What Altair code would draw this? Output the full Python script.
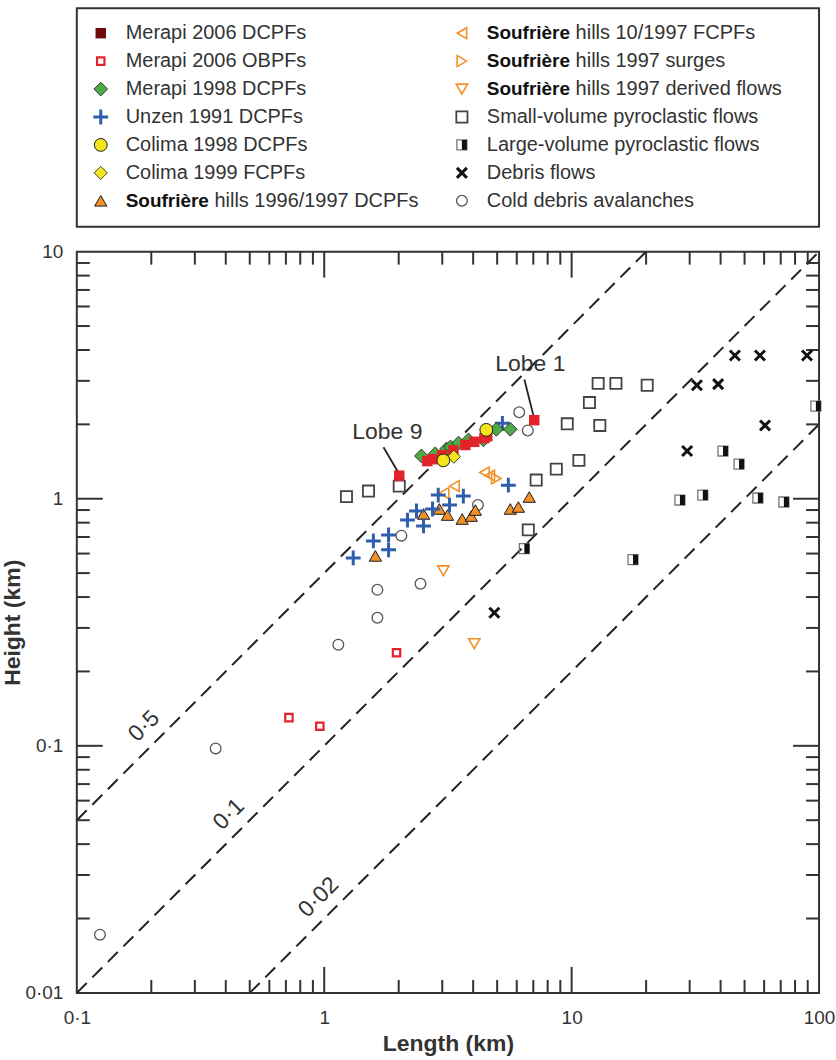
import altair as alt
import pandas as pd

FONT = "Liberation Sans"

# ---------------- data (length km, height km) ----------------
merapi06_dcpf_len = [2.01, 2.61, 2.74, 3.00, 3.33, 3.72, 4.04, 4.44, 4.56, 7.06]
merapi06_dcpf_h = [1.24, 1.42, 1.445, 1.50, 1.57, 1.65, 1.70, 1.76, 1.79, 2.08]
merapi06_obpf_len = [0.72, 0.96, 1.96]
merapi06_obpf_h = [0.13, 0.12, 0.238]
merapi98_len = [2.47, 2.81, 3.12, 3.24, 3.49, 3.83, 4.40, 4.96, 5.65]
merapi98_h = [1.49, 1.52, 1.59, 1.62, 1.68, 1.73, 1.73, 1.91, 1.91]
unzen_len = [1.31, 1.58, 1.82, 1.82, 2.17, 2.36, 2.52, 2.74, 2.89, 3.21, 3.65, 5.25, 5.55]
unzen_h = [0.576, 0.675, 0.714, 0.621, 0.820, 0.892, 0.776, 0.909, 1.035, 0.943, 1.025, 2.02, 1.135]
colima98_len = [3.03, 4.52]
colima98_h = [1.43, 1.90]
colima99_len = [3.34]
colima99_h = [1.48]
souf_dcpf_len = [1.61, 2.52, 2.92, 3.15, 3.61, 3.93, 4.08, 5.65, 6.09, 6.74]
souf_dcpf_h = [0.587, 0.868, 0.909, 0.859, 0.828, 0.851, 0.900, 0.909, 0.926, 1.016]
souf_fcpf_len = [3.05, 3.36, 4.44, 4.67]
souf_fcpf_h = [1.054, 1.125, 1.277, 1.242]
souf_surge_len = [4.96]
souf_surge_h = [1.208]
souf_derived_len = [3.03, 4.04]
souf_derived_h = [0.511, 0.259]
small_pf_len = [1.23, 1.51, 2.01, 6.68, 7.19, 8.67, 9.60, 10.7, 11.8, 12.8, 13.0, 15.1, 20.2]
small_pf_h = [1.02, 1.074, 1.125, 0.748, 1.19, 1.318, 2.01, 1.43, 2.45, 2.93, 1.98, 2.93, 2.88]
large_pf_len = [6.44, 17.7, 27.4, 33.9, 40.9, 47.5, 56.6, 72.1, 97.1]
large_pf_h = [0.628, 0.567, 0.988, 1.035, 1.56, 1.38, 1.007, 0.97, 2.37]
debris_len = [4.87, 29.3, 32.1, 39.1, 45.7, 57.7, 60.5, 89.4]
debris_h = [0.3455, 1.56, 2.88, 2.91, 3.80, 3.80, 1.98, 3.80]
cold_len = [0.124, 0.364, 1.14, 1.64, 1.64, 2.45, 2.05, 4.18, 6.14, 6.65]
cold_h = [0.0172, 0.0976, 0.2566, 0.428, 0.330, 0.453, 0.709, 0.943, 2.24, 1.89]

# H/L ratio lines and their labels
ratios = [0.5, 0.1, 0.02]
ratio_labels = ["0·5", "0·1", "0·02"]
ratio_label_len = [0.212, 0.466, 1.075]

# annotations
lobe_text = ["Lobe 1", "Lobe 9"]
lobe_text_len = [6.81, 1.80]
lobe_text_h = [3.50, 1.86]
lobe_line_len = [[6.44, 7.0], [1.736, 1.99]]
lobe_line_h = [[3.04, 2.18], [1.617, 1.28]]

# axis tick values
x_labels = [0.1, 1, 10, 100]
y_labels = [0.01, 0.1, 1, 10]
x_minor = [0.2, 0.3, 0.4, 0.5, 0.6, 0.7, 0.8, 0.9, 2, 3, 4, 5, 6, 7, 8, 9,
           20, 30, 40, 50, 60, 70, 80, 90]
x_major = [1, 10]
y_minor = [0.02, 0.03, 0.04, 0.05, 0.06, 0.07, 0.08, 0.09,
           0.2, 0.3, 0.4, 0.5, 0.6, 0.7, 0.8, 0.9,
           2, 3, 4, 5, 6, 7, 8, 9]
y_major = [0.1, 1]

# ---------------- styles ----------------
RED = "#e3232a"
ORANGE = "#f2912a"
PLUS = "M-1,0L1,0M0,-1L0,1"
XSHAPE = "M-1,-1L1,1M-1,1L1,-1"
HALF = "M0,-1L1,-1L1,1L0,1Z"

series = [
    dict(name="Merapi 2006 DCPFs", L=merapi06_dcpf_len, H=merapi06_dcpf_h, shape="square",
         fill=RED, legend_fill="#6e0b0b", size=110, col=0, row=0),
    dict(name="Merapi 2006 OBPFs", L=merapi06_obpf_len, H=merapi06_obpf_h, shape="square",
         stroke=RED, sw=2.2, size=55, col=0, row=1),
    dict(name="Merapi 1998 DCPFs", L=merapi98_len, H=merapi98_h, shape="diamond",
         fill="#4ea846", stroke="#1a1a1a", sw=0.8, size=190, col=0, row=2),
    dict(name="Unzen 1991 DCPFs", L=unzen_len, H=unzen_h, shape=PLUS,
         stroke="#2f5eac", sw=3, size=220, col=0, row=3),
    dict(name="Colima 1998 DCPFs", L=colima98_len, H=colima98_h, shape="circle",
         fill="#f2e51d", stroke="#1a1a1a", sw=1, size=165, col=0, row=4),
    dict(name="Colima 1999 FCPFs", L=colima99_len, H=colima99_h, shape="diamond",
         fill="#f2e51d", stroke="#1a1a1a", sw=0.8, size=175, col=0, row=5),
    dict(name="Soufrière hills 1996/1997 DCPFs", L=souf_dcpf_len, H=souf_dcpf_h, shape="triangle-up",
         fill=ORANGE, stroke="#1a1a1a", sw=1, size=150, col=0, row=6),
    dict(name="Soufrière hills 10/1997 FCPFs", L=souf_fcpf_len, H=souf_fcpf_h, shape="triangle-left",
         stroke=ORANGE, sw=1.6, size=120, col=1, row=0),
    dict(name="Soufrière hills 1997 surges", L=souf_surge_len, H=souf_surge_h, shape="triangle-right",
         stroke=ORANGE, sw=1.6, size=120, col=1, row=1),
    dict(name="Soufrière hills 1997 derived flows", L=souf_derived_len, H=souf_derived_h,
         shape="triangle-down", stroke=ORANGE, sw=1.6, size=130, col=1, row=2),
    dict(name="Small-volume pyroclastic flows", L=small_pf_len, H=small_pf_h, shape="square",
         stroke="#444444", sw=1.8, size=125, col=1, row=3),
    dict(name="Large-volume pyroclastic flows", L=large_pf_len, H=large_pf_h, shape="square",
         stroke="#777777", sw=1.3, size=100, half=True, col=1, row=4),
    dict(name="Debris flows", L=debris_len, H=debris_h, shape=XSHAPE,
         stroke="#111111", sw=3, size=100, col=1, row=5),
    dict(name="Cold debris avalanches", L=cold_len, H=cold_h, shape="circle",
         stroke="#555555", sw=1.3, size=115, col=1, row=6),
]

W, H = 744, 743
TICK_MAJ, TICK_MIN = 26, 13
AX = "#333333"

lab_expr = "replace(format(datum.value, '~g'), '.', '·')"
x_axis = alt.Axis(values=x_labels, labelExpr=lab_expr, ticks=False, domain=False, grid=False,
                  labelFont=FONT, labelFontSize=19, labelColor=AX, labelPadding=16,
                  labelFlush=False, labelOverlap=False,
                  title="Length (km)", titleFont=FONT, titleFontSize=23,
                  titleFontWeight="bold", titleColor=AX, titlePadding=5)
y_axis = alt.Axis(values=y_labels, labelExpr=lab_expr, ticks=False, domain=False, grid=False,
                  labelFont=FONT, labelFontSize=19, labelColor=AX, labelPadding=14,
                  labelFlush=False, labelOverlap=False,
                  title="Height (km)", titleFont=FONT, titleFontSize=23,
                  titleFontWeight="bold", titleColor=AX, titlePadding=0)
XS = alt.Scale(type="log", domain=[0.1, 100], nice=False)
YS = alt.Scale(type="log", domain=[0.01, 10], nice=False)
X = alt.X("L:Q", scale=XS, axis=x_axis)
Y = alt.Y("H:Q", scale=YS, axis=y_axis)


def point_layer(data, st, x, y, fill_key="fill"):
    props = dict(shape=st["shape"], size=st["size"], opacity=1)
    fill = st.get(fill_key) or st.get("fill")
    if fill:
        props.update(filled=True, fill=fill)
    else:
        props.update(filled=False)
    if st.get("stroke"):
        props.update(stroke=st["stroke"], strokeWidth=st["sw"])
    else:
        props.update(strokeWidth=0)
    layers = [alt.Chart(data).mark_point(**props).encode(x=x, y=y)]
    if st.get("half"):
        layers.append(alt.Chart(data).mark_point(shape=HALF, size=st["size"], filled=True,
                                                 fill="#111111", strokeWidth=0, opacity=1)
                      .encode(x=x, y=y))
    return layers


# ---------------- main plot ----------------
layers = []

# ratio lines
line_rows = []
for c in ratios:
    x0 = max(0.1, 0.01 / c)
    x1 = min(100, 10 / c)
    line_rows += [dict(L=x0, H=c * x0, c=str(c)), dict(L=x1, H=c * x1, c=str(c))]
layers.append(alt.Chart(pd.DataFrame(line_rows)).mark_line(
    color="#222222", strokeWidth=2, strokeDash=[14, 8]).encode(x=X, y=Y, detail="c:N"))

# ratio labels
rl = pd.DataFrame(dict(L=ratio_label_len, H=[c * l for c, l in zip(ratios, ratio_label_len)],
                       t=ratio_labels))
layers.append(alt.Chart(rl).mark_text(font=FONT, fontSize=23, color=AX, angle=315, dy=-19,
                                      align="center", baseline="middle")
              .encode(x=X, y=Y, text="t:N"))

# ticks (inward, all four sides)
dfxm = pd.DataFrame(dict(L=x_minor))
dfxM = pd.DataFrame(dict(L=x_major))
dfym = pd.DataFrame(dict(H=y_minor))
dfyM = pd.DataFrame(dict(H=y_major))
rule = dict(color=AX, strokeWidth=2)
for df, ln in [(dfxm, TICK_MIN), (dfxM, TICK_MAJ)]:
    layers.append(alt.Chart(df).mark_rule(**rule).encode(x=X, y=alt.value(H), y2=alt.value(H - ln)))
    layers.append(alt.Chart(df).mark_rule(**rule).encode(x=X, y=alt.value(0), y2=alt.value(ln)))
for df, ln in [(dfym, TICK_MIN), (dfyM, TICK_MAJ)]:
    layers.append(alt.Chart(df).mark_rule(**rule).encode(y=Y, x=alt.value(0), x2=alt.value(ln)))
    layers.append(alt.Chart(df).mark_rule(**rule).encode(y=Y, x=alt.value(W), x2=alt.value(W - ln)))

# leader lines
lead_rows = []
for i, (ls, hs) in enumerate(zip(lobe_line_len, lobe_line_h)):
    for l, h in zip(ls, hs):
        lead_rows.append(dict(L=l, H=h, g=i))
layers.append(alt.Chart(pd.DataFrame(lead_rows)).mark_line(color="#222222", strokeWidth=1.8)
              .encode(x=X, y=Y, detail="g:N"))

# points: grey/black first, coloured on top
order = [10, 11, 12, 13, 1, 7, 8, 9, 6, 3, 2, 0, 5, 4]
for i in order:
    st = series[i]
    df = pd.DataFrame(dict(L=st["L"], H=st["H"]))
    layers += point_layer(df, st, X, Y)

# lobe labels
lb = pd.DataFrame(dict(L=lobe_text_len, H=lobe_text_h, t=lobe_text))
layers.append(alt.Chart(lb).mark_text(font=FONT, fontSize=23, color=AX, align="center",
                                      baseline="middle").encode(x=X, y=Y, text="t:N"))

plot = alt.layer(*layers).properties(width=W, height=H)

# ---------------- legend box ----------------
LX = alt.X("c:Q", scale=alt.Scale(domain=[0, 1], range=[24, 386]), axis=None)
LY = alt.Y("r:Q", scale=alt.Scale(domain=[0, 6], range=[25, 193]), axis=None)
leg_layers = []
plain, bold, rest = [], [], []
for st in series:
    d = pd.DataFrame(dict(c=[st["col"]], r=[st["row"]]))
    leg_layers += point_layer(d, st, LX, LY, fill_key="legend_fill")
    if st["name"].startswith("Soufrière "):
        bold.append(dict(c=st["col"], r=st["row"], t="Soufrière"))
        rest.append(dict(c=st["col"], r=st["row"], t=st["name"][len("Soufrière "):]))
    else:
        plain.append(dict(c=st["col"], r=st["row"], t=st["name"]))

txt = dict(font=FONT, align="left", baseline="middle")
leg_layers.append(alt.Chart(pd.DataFrame(plain)).mark_text(fontSize=20, color=AX, dx=25, **txt)
                  .encode(x=LX, y=LY, text="t:N"))
leg_layers.append(alt.Chart(pd.DataFrame(bold)).mark_text(fontSize=19, fontWeight="bold",
                                                          color="#111111", dx=25, **txt)
                  .encode(x=LX, y=LY, text="t:N"))
leg_layers.append(alt.Chart(pd.DataFrame(rest)).mark_text(fontSize=20, color=AX, dx=114, **txt)
                  .encode(x=LX, y=LY, text="t:N"))
legend = alt.layer(*leg_layers).properties(width=W, height=219)

chart = (alt.vconcat(legend, plot, spacing=14)
         .properties(padding={"left": 0, "top": 6, "right": 0, "bottom": 0}, background="white")
         .configure_view(stroke="#333333", strokeWidth=2))

chart.save("out.html", embed_options={"renderer": "svg", "actions": False})
